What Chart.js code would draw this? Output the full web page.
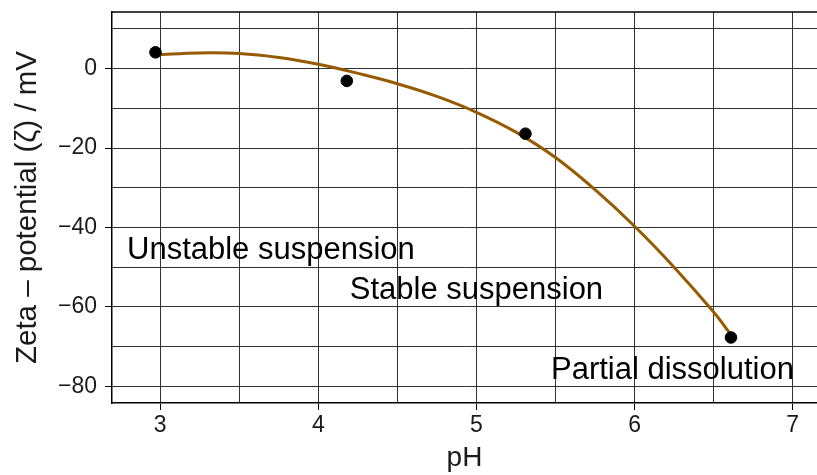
<!DOCTYPE html>
<html>
<head>
<meta charset="utf-8">
<script src="https://cdn.jsdelivr.net/npm/chart.js@4/dist/chart.umd.min.js"></script>
<style>
  html, body { margin: 0; padding: 0; background: #fff; }
  #wrap { width: 817px; height: 475px; }
</style>
</head>
<body>
<div id="wrap"><canvas id="zeta" width="817" height="475"></canvas></div>
<script>
// measured points
const phPoints = [2.97, 4.18, 5.31, 6.61];
const zetaPoints = [4.1, -3.1, -16.4, -67.7];

// fitted trend line
const fitPh = [2.97, 3.25, 3.5, 3.75, 4.0, 4.25, 4.5, 4.75, 5.0, 5.25, 5.5, 5.75, 6.0, 6.25, 6.5, 6.61];
const fitZeta = [3.5, 3.95, 3.8, 2.8, 1.1, -1.2, -3.8, -7.0, -11.0, -16.0, -22.4, -30.5, -39.7, -50.0, -61.3, -67.0];

// axes
const xGrid = [3, 3.5, 4, 4.5, 5, 5.5, 6, 6.5, 7];
const xTickLabels = [3, 4, 5, 6, 7];
const yGrid = [10, 0, -10, -20, -30, -40, -50, -60, -70, -80];
const yTickLabels = [0, -20, -40, -60, -80];

// region labels
const regionNames = ["Unstable suspension", "Stable suspension", "Partial dissolution"];
const regionPh = [3.7, 5.0, 6.24];
const regionZeta = [-45.2, -55.3, -75.3];

const FONT = "'Liberation Sans', Arial, Helvetica, sans-serif";

// top frame line + region text
const extras = {
  id: "extras",
  afterDatasetsDraw(chart) {
    const ctx = chart.ctx;
    const area = chart.chartArea;
    const xs = chart.scales.x, ys = chart.scales.y;
    ctx.save();
    ctx.strokeStyle = "#000";
    ctx.lineWidth = 1.5;
    ctx.beginPath();
    ctx.moveTo(area.left, area.top);
    ctx.lineTo(area.right, area.top);
    ctx.stroke();

    ctx.fillStyle = "#000";
    ctx.font = "31px " + FONT;
    ctx.textAlign = "center";
    ctx.textBaseline = "alphabetic";
    regionNames.forEach((name, i) => {
      ctx.fillText(name, xs.getPixelForValue(regionPh[i]), ys.getPixelForValue(regionZeta[i]) + 11);
    });
    ctx.restore();
  }
};

new Chart(document.getElementById("zeta"), {
  type: "scatter",
  data: {
    datasets: [
      {
        data: phPoints.map((x, i) => ({ x: x, y: zetaPoints[i] })),
        backgroundColor: "#000",
        borderColor: "#000",
        pointRadius: 5.8,
        order: 0
      },
      {
        type: "line",
        data: fitPh.map((x, i) => ({ x: x, y: fitZeta[i] })),
        borderColor: "#965a00",
        borderWidth: 3,
        pointRadius: 0,
        fill: false,
        tension: 0.4,
        order: 1
      }
    ]
  },
  plugins: [extras],
  options: {
    responsive: false,
    animation: false,
    layout: { autoPadding: false, padding: { top: 12, right: 0, left: 0, bottom: 0 } },
    plugins: { legend: { display: false }, tooltip: { enabled: false } },
    scales: {
      x: {
        type: "linear",
        min: 2.695,
        max: 7.154,
        afterBuildTicks: s => { s.ticks = xGrid.map(v => ({ value: v })); },
        afterFit: s => { s.height = 72; s.paddingLeft = 0; s.paddingRight = 0; },
        ticks: {
          autoSkip: false,
          maxRotation: 0,
          padding: 2,
          color: "#1a1a1a",
          font: { family: FONT, size: 23 },
          callback: v => xTickLabels.includes(v) ? String(v) : ""
        },
        grid: {
          color: "rgba(0,0,0,0.8)",
          lineWidth: 1,
          tickLength: 7,
          tickColor: c => c.tick && xTickLabels.includes(c.tick.value) ? "#000" : "rgba(0,0,0,0)"
        },
        border: { color: "#000", width: 1.5 },
        title: {
          display: true,
          text: "pH",
          color: "#1a1a1a",
          font: { family: FONT, size: 28 },
          padding: { top: 0, bottom: 0 }
        }
      },
      y: {
        min: -84.2,
        max: 14.25,
        afterBuildTicks: s => { s.ticks = yGrid.map(v => ({ value: v })); },
        afterFit: s => { s.width = 112; s.paddingTop = 0; s.paddingBottom = 0; },
        ticks: {
          autoSkip: false,
          padding: 8,
          color: "#1a1a1a",
          font: { family: FONT, size: 23 },
          callback: v => yTickLabels.includes(v) ? String(v).replace("-", "\u2212") : ""
        },
        grid: {
          color: "rgba(0,0,0,0.8)",
          lineWidth: 1,
          tickLength: 7,
          tickColor: c => c.tick && yTickLabels.includes(c.tick.value) ? "#000" : "rgba(0,0,0,0)"
        },
        border: { color: "#000", width: 1.5 },
        title: {
          display: true,
          text: "Zeta \u2013 potential (\u03b6) / mV",
          color: "#1a1a1a",
          font: { family: FONT, size: 29.5 },
          padding: { top: 10, bottom: 0 }
        }
      }
    }
  }
});
</script>
</body>
</html>
